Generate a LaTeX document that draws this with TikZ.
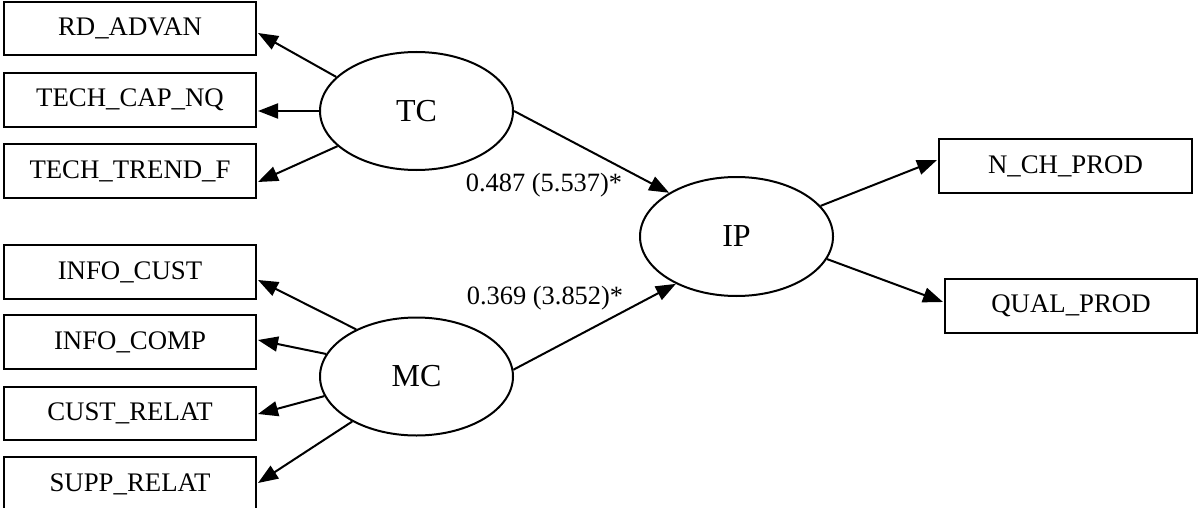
\documentclass[tikz,border=0pt]{standalone}
\usepackage{fontspec}
\setmainfont{Liberation Serif}
\usetikzlibrary{arrows.meta,calc,shapes.geometric}

\tikzset{
  indicator/.style={draw, rectangle, line width=1pt, inner sep=0pt,
    minimum width=126pt, minimum height=26.75pt,
    font=\fontsize{13.4}{15}\selectfont},
  latent/.style={draw, ellipse, line width=1pt, inner sep=0pt,
    minimum width=96.5pt, minimum height=59pt,
    font=\fontsize{16}{19}\selectfont},
  path/.style={line width=1pt, -{Triangle[length=10pt,width=7.5pt]}},
  coef/.style={font=\fontsize{13.2}{15}\selectfont, inner sep=0pt}
}

\begin{document}
\begin{tikzpicture}[x=0.5pt, y=-0.5pt]
  \useasboundingbox (0,0) rectangle (1198,508);

  % measurement indicators
  \node[indicator] (rd)    at (130,28.5)  {RD\_ADVAN};
  \node[indicator] (cap)   at (130,100)   {TECH\_CAP\_NQ};
  \node[indicator] (trend) at (130,171)   {TECH\_TREND\_F};
  \node[indicator] (cust)  at (130,272)   {INFO\_CUST};
  \node[indicator] (comp)  at (130,342)   {INFO\_COMP};
  \node[indicator] (crel)  at (130,413.5) {CUST\_RELAT};
  \node[indicator] (supp)  at (130,484)   {SUPP\_RELAT};
  \node[indicator, minimum width=126.5pt] (nch)  at (1065.5,166) {N\_CH\_PROD};
  \node[indicator] (qual) at (1071,306) {QUAL\_PROD};

  % latent constructs
  \node[latent] (tc) at (416.5,111)   {TC};
  \node[latent] (mc) at (416.5,376.5) {MC};
  \node[latent, minimum height=59.5pt] (ip) at (736.5,236.5) {IP};

  % TC loadings
  \draw[path] (tc.157.4) -- ($(rd.east)+(1,4.5)$);
  \draw[path] (tc.180)   -- ($(cap.east)+(1,11)$);
  \draw[path] (tc.204.6) -- ($(trend.east)+(1,11)$);

  % MC loadings
  \draw[path] (mc.142.9) -- ($(cust.east)+(1,8)$);
  \draw[path] (mc.166.8) -- ($(comp.east)+(1,-2)$);
  \draw[path] (mc.192.6) -- ($(crel.east)+(1,0.5)$);
  \draw[path] (mc.215.6) -- ($(supp.east)+(1,-1)$);

  % structural paths
  \draw[path] (tc.0)   -- (ip.147);
  \draw[path] (mc.4.4) -- (ip.218);

  % IP loadings
  \draw[path] (ip.20.7) -- ($(nch.west)+(-1,-6)$);
  \draw[path] (ip.346)  -- ($(qual.west)+(-1,-4)$);

  % path coefficients
  \node[coef] (c1) at (544,185) {0.487 (5.537)*};
  \node[coef] (c2) at (545,298) {0.369 (3.852)*};
\end{tikzpicture}
\end{document}
